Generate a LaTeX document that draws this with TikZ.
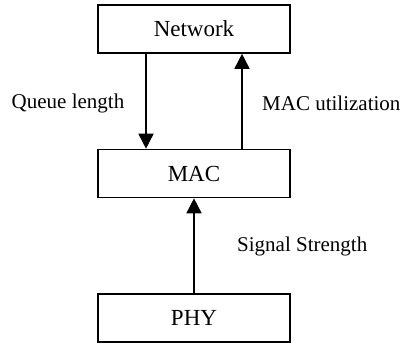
\documentclass[tikz,border=0pt]{standalone}
\usepackage{fontspec}
\setmainfont{Liberation Serif}
\usetikzlibrary{arrows.meta}
\begin{document}
\begin{tikzpicture}[x=1pt,y=-1pt,
  layer/.style={draw, line width=1.6pt, minimum width=192pt, minimum height=48pt, inner sep=0pt, font=\fontsize{23}{27}\selectfont},
  lbl/.style={font=\fontsize{21}{25}\selectfont, inner sep=0pt},
  conn/.style={line width=1.6pt, -{Triangle[length=15pt,width=15pt]}}]
\useasboundingbox (0,0) rectangle (402,346);
\node[layer] (net) at (194,29) {Network};
\node[layer] (mac) at (194,173.5) {MAC};
\node[layer] (phy) at (194,318) {PHY};
\draw[conn] (net.south -| 146,0) -- (mac.north -| 146,0);
\draw[conn] (mac.north -| 242,0) -- (net.south -| 242,0);
\draw[conn] (phy.north) -- (mac.south);
\node[lbl] (ql) at (68,103) {Queue length};
\node[lbl, anchor=west] (mu) at (262,103) {MAC utilization};
\node[lbl, anchor=west] (ss) at (237,246) {Signal Strength};
\end{tikzpicture}
\end{document}
